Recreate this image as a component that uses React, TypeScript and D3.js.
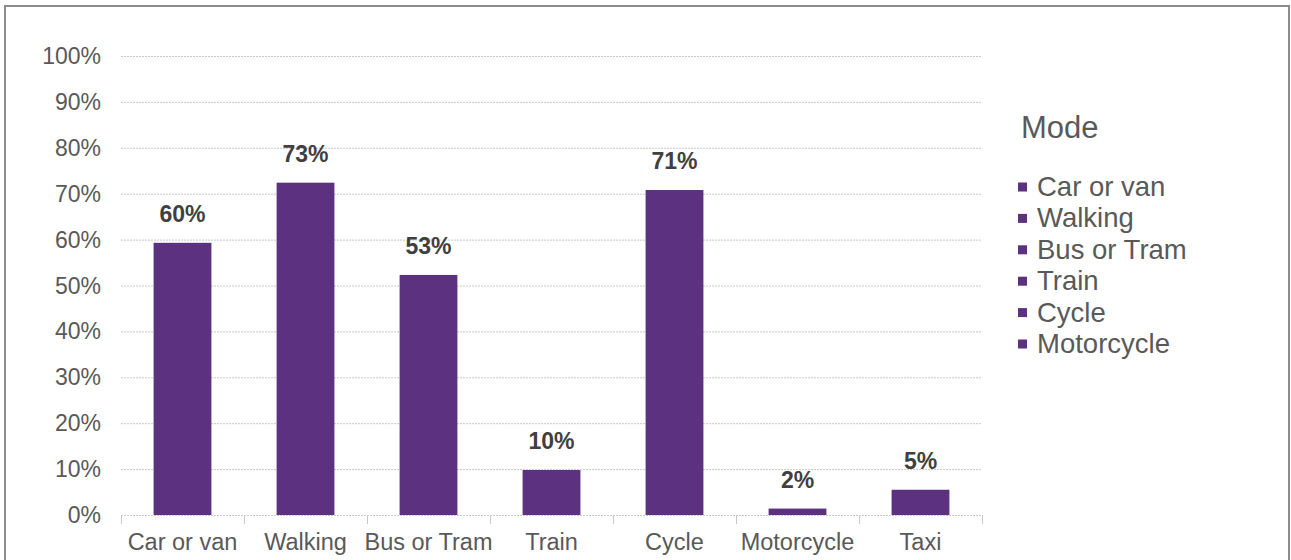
import React, { useRef, useEffect } from 'react';
import * as d3 from 'd3';

const modes = ['Car or van', 'Walking', 'Bus or Tram', 'Train', 'Cycle', 'Motorcycle', 'Taxi'];
const shares = [59.3, 72.4, 52.3, 9.8, 70.8, 1.4, 5.5];
const shareLabels = ['60%', '73%', '53%', '10%', '71%', '2%', '5%'];
const legendItems = ['Car or van', 'Walking', 'Bus or Tram', 'Train', 'Cycle', 'Motorcycle'];
const yTicks = [0, 10, 20, 30, 40, 50, 60, 70, 80, 90, 100];

const W = 1291;
const H = 560;
const BAR = '#5b3180';
const FONT = '"Liberation Sans", Arial, sans-serif';

const App: React.FC = () => {
  const svgRef = useRef<SVGSVGElement>(null);

  useEffect(() => {
    if (!svgRef.current) return;
    const svg = d3.select(svgRef.current);
    svg.selectAll('*').remove();

    // outer frame
    svg.append('rect')
      .attr('x', 5).attr('y', 6)
      .attr('width', 1284).attr('height', 570)
      .attr('fill', '#fff')
      .attr('stroke', '#8c8c8c')
      .attr('stroke-width', 2);

    const left = 121, right = 982, top = 56, bottom = 515;

    const x = d3.scaleBand().domain(modes).range([left, right]).paddingInner(0.53).paddingOuter(0.265);
    const bands = d3.scaleBand().domain(modes).range([left, right]);
    const y = d3.scaleLinear().domain([0, 100]).range([bottom, top]);

    // gridlines
    svg.append('g')
      .selectAll('line')
      .data(yTicks)
      .enter()
      .append('line')
      .attr('x1', left).attr('x2', right)
      .attr('y1', d => y(d) + 0.5).attr('y2', d => y(d) + 0.5)
      .attr('stroke', '#c8c8c8')
      .attr('stroke-dasharray', '2,1');

    // y labels
    svg.append('g')
      .selectAll('text')
      .data(yTicks)
      .enter()
      .append('text')
      .attr('x', 101)
      .attr('y', d => y(d) + 8)
      .attr('text-anchor', 'end')
      .style('font-family', FONT)
      .style('font-size', '23px')
      .style('fill', '#595959')
      .text(d => `${d}%`);

    // category ticks
    const tickXs = modes.map(m => bands(m)!).concat([right]);
    svg.append('g')
      .selectAll('line')
      .data(tickXs)
      .enter()
      .append('line')
      .attr('x1', d => Math.round(d) + 0.5).attr('x2', d => Math.round(d) + 0.5)
      .attr('y1', bottom).attr('y2', bottom + 9)
      .attr('stroke', '#c8c8c8');

    // bars
    svg.append('g')
      .selectAll('rect')
      .data(modes)
      .enter()
      .append('rect')
      .attr('x', d => x(d)!)
      .attr('width', x.bandwidth())
      .attr('y', (d, i) => y(shares[i]))
      .attr('height', (d, i) => bottom - y(shares[i]))
      .attr('fill', BAR);

    // value labels
    svg.append('g')
      .selectAll('text')
      .data(modes)
      .enter()
      .append('text')
      .attr('x', d => x(d)! + x.bandwidth() / 2)
      .attr('y', (d, i) => y(shares[i]) - 21)
      .attr('text-anchor', 'middle')
      .style('font-family', FONT)
      .style('font-size', '23px')
      .style('font-weight', 'bold')
      .style('fill', '#404040')
      .text((d, i) => shareLabels[i]);

    // x labels
    svg.append('g')
      .selectAll('text')
      .data(modes)
      .enter()
      .append('text')
      .attr('x', d => bands(d)! + bands.bandwidth() / 2)
      .attr('y', 550)
      .attr('text-anchor', 'middle')
      .style('font-family', FONT)
      .style('font-size', '23.5px')
      .style('fill', '#595959')
      .text(d => d);

    // legend
    svg.append('text')
      .attr('x', 1021).attr('y', 138)
      .style('font-family', FONT)
      .style('font-size', '31px')
      .style('fill', '#595959')
      .text('Mode');

    const lg = svg.append('g')
      .selectAll('g')
      .data(legendItems)
      .enter()
      .append('g')
      .attr('transform', (d, i) => `translate(1018, ${187 + i * 31.4})`);
    lg.append('rect')
      .attr('x', 0).attr('y', -4.5)
      .attr('width', 9).attr('height', 9)
      .attr('fill', BAR);
    lg.append('text')
      .attr('x', 19).attr('y', 9)
      .style('font-family', FONT)
      .style('font-size', '27.5px')
      .style('fill', '#595959')
      .text(d => d);
  }, []);

  return <svg ref={svgRef} width={W} height={H} style={{ position: 'absolute', left: 0, top: 0 }}></svg>;
};

export default App;
